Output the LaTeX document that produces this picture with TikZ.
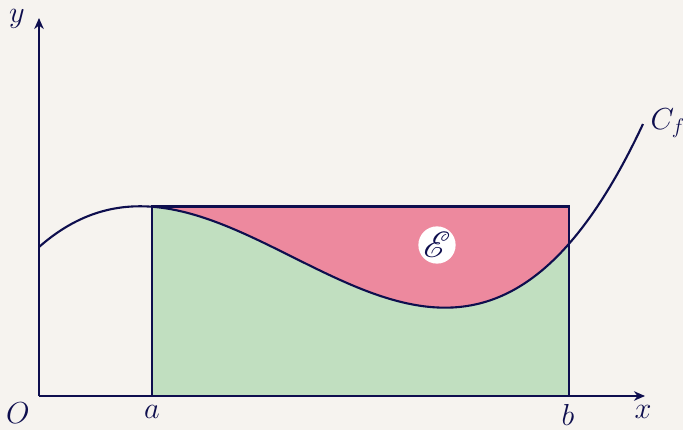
\documentclass[tikz,border=0pt]{standalone}
\usepackage{mathrsfs}
\usetikzlibrary{arrows.meta}
\definecolor{paper}{RGB}{246,243,239}
\definecolor{ink}{RGB}{14,14,78}
\definecolor{lowpart}{RGB}{193,223,192}
\definecolor{toppart}{RGB}{237,137,158}
\tikzstyle{axis} = [
    line width=1.1pt,
    draw=ink,
    -{Stealth[length=2.2mm, width=1.9mm, inset=0.7mm]}
]
\tikzstyle{frame} = [
    line width=1.6pt,
    draw=ink
]
\tikzstyle{lbl} = [
    text=ink,
    inner sep=1pt,
    font=\fontsize{17}{19}\selectfont
]
\newcommand{\fcurve}[1]{149+7.147*(12.3018*((#1)/100)-7.605*((#1)/100)^2+((#1)/100)^3)}

\begin{document}
\begin{tikzpicture}[x=0.02cm, y=0.02cm]

\fill[paper] (-39,-34) rectangle (644,396);
\useasboundingbox (-39,-34) rectangle (644,396);

% rectangle from a to b, height f(a)
\fill[toppart] (113,0) rectangle (530,{\fcurve{113}});
\fill[lowpart] (113,0) -- plot[domain=113:530, samples=60, smooth] (\x, {\fcurve{\x}}) -- (530,0) -- cycle;
\draw[frame] (113,0) rectangle (530,{\fcurve{113}});

% curve
\draw[line width=1.2pt, ink] plot[domain=0:604, samples=90, smooth] (\x, {\fcurve{\x}});

% axes
\draw[axis] (0,0) -- (606,0);
\draw[axis] (0,0) -- (0,378);

\node (area) [lbl, circle, fill=white, minimum size=36*0.02cm, inner sep=0pt, font=\fontsize{21}{23}\selectfont] at (398,151) {$\mathscr{E}$};

\node (orig) [lbl] at (-21,-17) {$O$};
\node (xa) [lbl] at (113,-16) {$a$};
\node (xb) [lbl] at (529,-19) {$b$};
\node (xlbl) [lbl] at (604,-16) {$x$};
\node (ylbl) [lbl] at (-22,377) {$y$};
\node (cf) [lbl] at (629,273) {$C_f$};

\end{tikzpicture}
\end{document}
